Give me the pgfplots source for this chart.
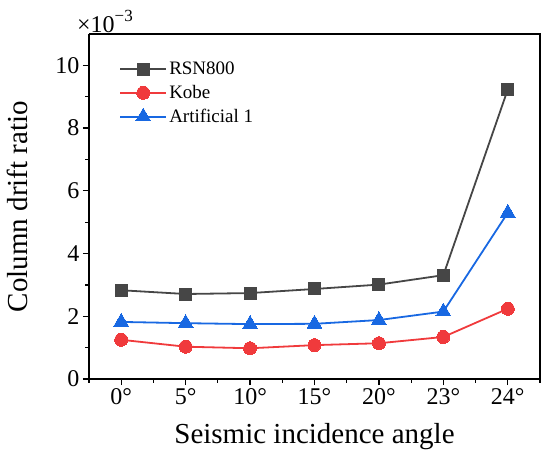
\documentclass[border=0pt]{standalone}
\usepackage{fontspec}
\setmainfont{Liberation Serif}
\usepackage{pgfplots}
\pgfplotsset{compat=1.18}
\definecolor{cgray}{RGB}{70,70,70}
\definecolor{cred}{RGB}{240,58,60}
\definecolor{cblue}{RGB}{24,104,226}
\begin{document}
\begin{tikzpicture}
\begin{axis}[
  at={(0pt,0pt)}, anchor=south west,
  scale only axis, width=451pt, height=345pt,
  xmin=-0.5, xmax=6.5, ymin=0, ymax=11,
  xtick={0,1,2,3,4,5,6},
  xticklabels={0°,5°,10°,15°,20°,23°,24°},
  minor xtick={-0.5,0.5,1.5,2.5,3.5,4.5,5.5,6.5},
  ytick={0,2,4,6,8,10},
  minor ytick={1,3,5,7,9},
  tick align=outside,
  axis x line*=bottom, axis y line*=left,
  major tick length=6pt, minor tick length=3.5pt,
  every tick/.style={black, line width=1.2pt},
  axis line style={line width=1.6pt, -},
  /pgf/number format/assume math mode=true,
  ticklabel style={font=\fontsize{24}{24}\selectfont},
  xlabel={Seismic incidence angle},
  ylabel={Column drift ratio},
  label style={font=\fontsize{29}{29}\selectfont},
  xlabel style={yshift=-12pt},
  ylabel style={yshift=21pt},
  clip=false,
  legend style={draw=none, fill=none, at={(0.06,0.93)}, anchor=north west,
    font=\fontsize{19}{19}\selectfont, row sep=5pt},
  legend cell align=left,
  legend image code/.code={
    \draw[#1, line width=2pt] (0pt,0pt) -- (46pt,0pt);
    \draw[#1, line width=2pt, mark repeat=2, mark phase=2] plot coordinates {(0pt,0pt) (23pt,0pt) (46pt,0pt)};
  },
]
\draw[line width=1.6pt] (rel axis cs:0,1) -- (rel axis cs:1,1) -- (rel axis cs:1,0);
\addplot[cgray, line width=1.8pt, mark=square*, mark size=6pt, mark options={fill=cgray, draw=cgray, line width=0pt}]
  coordinates {(0,2.83) (1,2.71) (2,2.74) (3,2.87) (4,3.01) (5,3.31) (6,9.23)};
\addlegendentry{RSN800}
\addplot[cred, line width=1.8pt, mark=*, mark size=6.5pt, mark options={fill=cred, draw=cred, line width=0pt}]
  coordinates {(0,1.25) (1,1.03) (2,0.98) (3,1.08) (4,1.14) (5,1.34) (6,2.24)};
\addlegendentry{Kobe}
\addplot[cblue, line width=1.8pt, mark=triangle*, mark size=8.5pt, mark options={fill=cblue, draw=cblue, line width=0pt}]
  coordinates {(0,1.82) (1,1.78) (2,1.75) (3,1.76) (4,1.88) (5,2.15) (6,5.30)};
\addlegendentry{Artificial 1}
\node[anchor=south west, inner sep=0pt] at ([xshift=-12pt,yshift=1.5pt]rel axis cs:0,1) {\fontsize{24}{24}\selectfont ×10\raisebox{0.42em}{\fontsize{17}{17}\selectfont −3}};
\end{axis}
\pgfresetboundingbox
\path[use as bounding box] (-89pt,-80pt) rectangle (461pt,379pt);
\end{tikzpicture}
\end{document}
